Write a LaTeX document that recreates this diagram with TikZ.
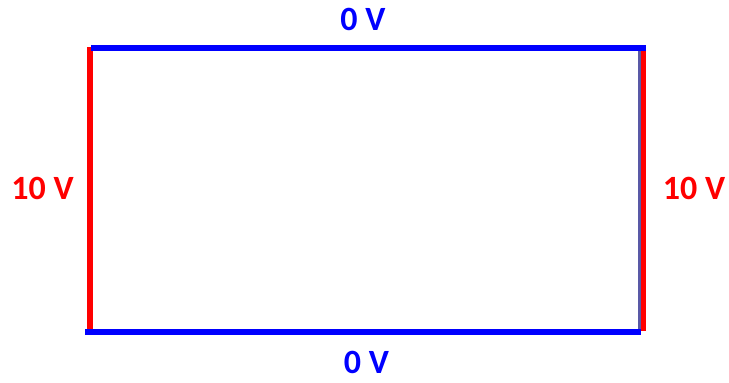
\documentclass[tikz,border=0pt]{standalone}
\usepackage{fontspec}
\setmainfont{Carlito}
\usepackage{xcolor}
\usetikzlibrary{positioning}

\tikzset{
    wire/.style={line width=6pt},
    lbl/.style={font=\fontsize{34}{40}\selectfont\bfseries, inner sep=0pt}
}

\begin{document}
\begin{tikzpicture}[x=1pt, y=-1pt]
        \useasboundingbox (0, 0) rectangle (729, 383);

        \coordinate (l1) at (90, 47);
        \coordinate (l2) at (90, 329);
        \coordinate (g1) at (639.5, 51);
        \coordinate (g2) at (639.5, 330);
        \coordinate (r1) at (643.5, 51);
        \coordinate (r2) at (643.5, 330.5);
        \coordinate (t1) at (91, 48);
        \coordinate (t2) at (646, 48);
        \coordinate (b1) at (85, 332);
        \coordinate (b2) at (641, 332);

        \draw[wire, red] (l1) -- (l2);
        \draw[line width=2.5pt, gray!70!blue] (g1) -- (g2);
        \draw[line width=5pt, red] (r1) -- (r2);
        \draw[wire, blue] (t1) -- (t2);
        \draw[wire, blue] (b1) -- (b2);

        \node[lbl, blue] (top) at (363, 19.5) {0 V};
        \node[lbl, blue] (bot) at (366.5, 362.5) {0 V};
        \node[lbl, red] (left) at (42.5, 188) {10 V};
        \node[lbl, red] (right) at (694, 188) {10 V};
    \end{tikzpicture}
\end{document}
